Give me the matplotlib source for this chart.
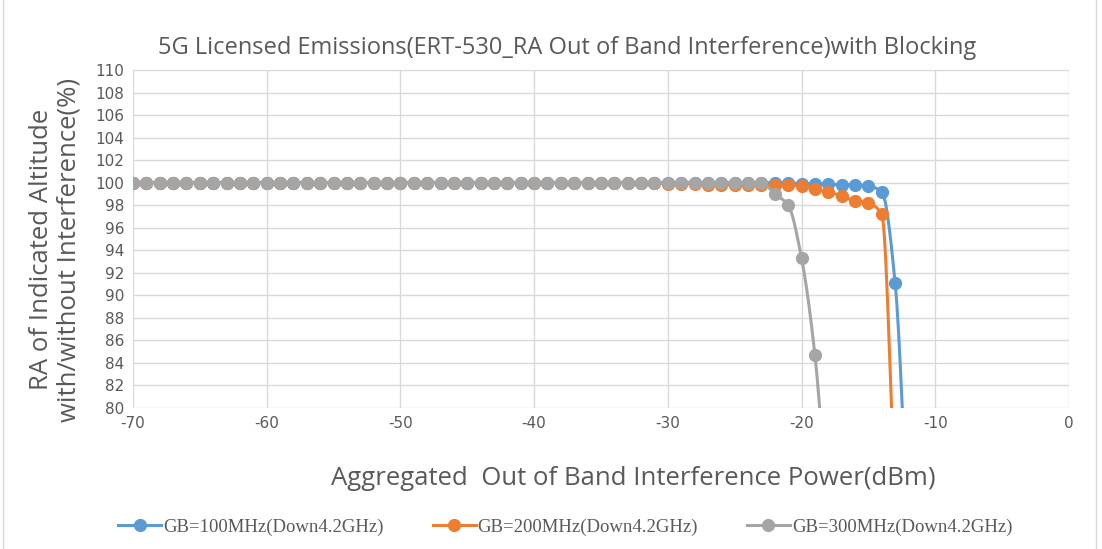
import numpy as np
import matplotlib
matplotlib.use("Agg")
import matplotlib.pyplot as plt
from matplotlib.patches import Rectangle

plt.rcParams["axes.unicode_minus"] = False

# ---- data ----
x_blue = list(range(-70, -11))
blue_tail = {-20: 99.9, -19: 99.9, -18: 99.9, -17: 99.8, -16: 99.8, -15: 99.7,
             -14: 99.2, -13: 91.1, -12: 68.0}
blue = [blue_tail.get(x, 100.0) for x in x_blue]

x_orange = list(range(-70, -12))
orange_tail = {-30: 99.9, -29: 99.9, -28: 99.9, -27: 99.8, -26: 99.8, -25: 99.8,
               -24: 99.8, -23: 99.8, -22: 99.8, -21: 99.8, -20: 99.7, -19: 99.4,
               -18: 99.2, -17: 98.8, -16: 98.4, -15: 98.2, -14: 97.2, -13: 72.0}
orange = [orange_tail.get(x, 100.0) for x in x_orange]

x_gray = list(range(-70, -17))
gray_tail = {-22: 99.0, -21: 98.0, -20: 93.3, -19: 84.7, -18: 70.0}
gray = [gray_tail.get(x, 100.0) for x in x_gray]

series = [
    ("GB=100MHz(Down4.2GHz)", x_blue, blue, "#5B9BD5"),
    ("GB=200MHz(Down4.2GHz)", x_orange, orange, "#ED7D31"),
    ("GB=300MHz(Down4.2GHz)", x_gray, gray, "#A5A5A5"),
]

title = "5G Licensed Emissions(ERT-530_RA Out of Band Interference)with Blocking"
xlabel = "Aggregated  Out of Band Interference Power(dBm)"
ylabel = "RA of Indicated Altitude\nwith/without Interference(%)"


def smooth(xs, ys, n=16):
    """Monotone (PCHIP) interpolation for display of the connecting line."""
    x = np.asarray(xs, float); y = np.asarray(ys, float)
    h = np.diff(x); d = np.diff(y) / h
    m = np.zeros_like(y)
    m[0] = d[0]; m[-1] = d[-1]
    for k in range(1, len(x) - 1):
        if d[k-1] * d[k] <= 0:
            m[k] = 0.0
        else:
            w1 = 2*h[k] + h[k-1]; w2 = h[k] + 2*h[k-1]
            m[k] = (w1 + w2) / (w1/d[k-1] + w2/d[k])
    ox, oy = [], []
    t = np.linspace(0, 1, n, endpoint=False)
    for k in range(len(x) - 1):
        h00 = 2*t**3 - 3*t**2 + 1; h10 = t**3 - 2*t**2 + t
        h01 = -2*t**3 + 3*t**2; h11 = t**3 - t**2
        ox.extend(x[k] + t*h[k])
        oy.extend(h00*y[k] + h10*h[k]*m[k] + h01*y[k+1] + h11*h[k]*m[k+1])
    ox.append(x[-1]); oy.append(y[-1])
    return np.array(ox), np.array(oy)


fig = plt.figure(figsize=(11.02, 5.49), dpi=100)
fig.patches.append(Rectangle((0.003, -0.01), 0.992, 1.02, transform=fig.transFigure,
                             fill=False, edgecolor="#D9D9D9", linewidth=1))
ax = fig.add_axes([0.1207, 0.2568, 0.8493, 0.6157])

for label, xs, ys, c in series:
    sx, sy = smooth(xs, ys)
    ax.plot(sx, sy, color=c, linewidth=2.2, zorder=3, solid_capstyle="round")
    ax.plot(xs, ys, linestyle="none", marker="o", markersize=8.5, color=c, zorder=3)

ax.set_xlim(-70, 0)
ax.set_ylim(80, 110)
ax.set_xticks(np.arange(-70, 1, 10))
ax.set_yticks(np.arange(80, 111, 2))
ax.grid(True, color="#D9D9D9", linewidth=1)
ax.set_axisbelow(True)
for s in ax.spines.values():
    s.set_visible(False)
ax.tick_params(length=0, labelsize=11, colors="#595959", pad=6)

fig.text(0.515, 0.913, title, ha="center", va="center", fontsize=17, color="#595959",
         family="Open Sans")
fig.text(0.575, 0.128, xlabel, ha="center", va="center", fontsize=18.5, color="#595959",
         family="Open Sans")
fig.text(0.05, 0.545, ylabel, ha="center", va="center", rotation=90, fontsize=18.5,
         color="#595959", family="Open Sans", linespacing=1.15)

handles = [plt.Line2D([], [], color=c, marker="o", markersize=8.5, linewidth=2.2)
           for _, _, _, c in series]
fig.legend(handles, [s[0] for s in series], loc="center", bbox_to_anchor=(0.513, 0.04),
           ncol=3, frameon=False, prop={"family": "Liberation Serif", "size": 13.5},
           labelcolor="#595959", handlelength=2.3, handletextpad=0.1, columnspacing=2.6)

fig.savefig("out.png", dpi=100)
